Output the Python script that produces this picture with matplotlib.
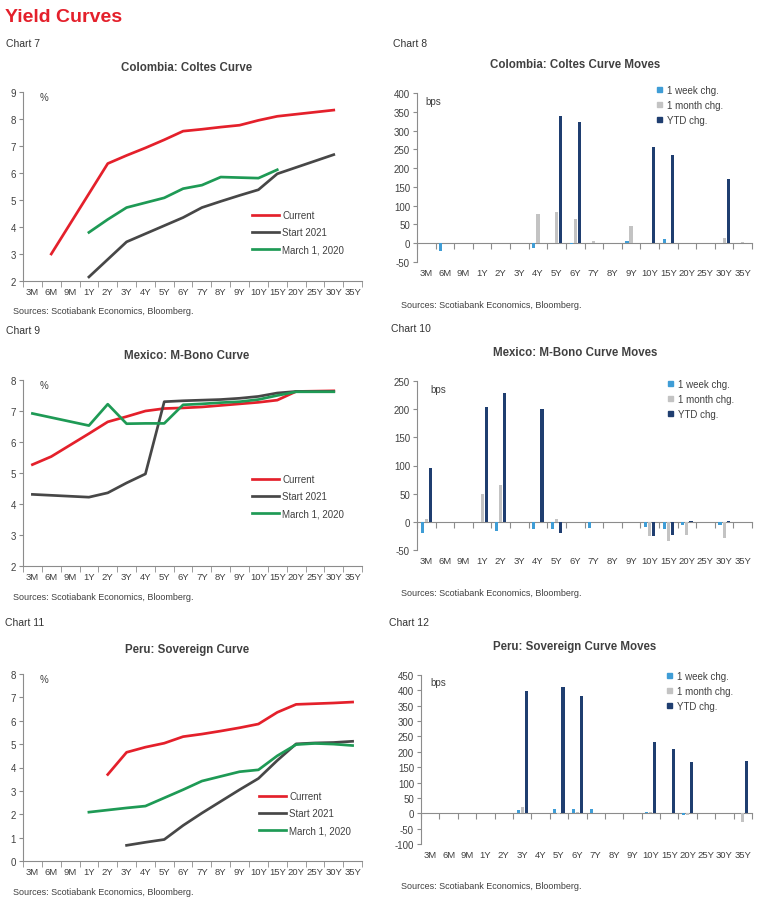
import numpy as np
import matplotlib
matplotlib.use("Agg")
import matplotlib.pyplot as plt
from matplotlib.lines import Line2D
from matplotlib.patches import Patch

plt.rcParams['font.family'] = ['Liberation Sans', 'DejaVu Sans']
plt.rcParams['axes.unicode_minus'] = False

nan = np.nan
tenors = ['3M', '6M', '9M', '1Y', '2Y', '3Y', '4Y', '5Y', '6Y', '7Y', '8Y', '9Y',
          '10Y', '15Y', '20Y', '25Y', '30Y', '35Y']

# Chart 7: Colombia Coltes curve (%)
col_current = [nan, 3.0, nan, nan, 6.35, 6.65, 6.93, 7.23, 7.55, 7.62, 7.7, 7.77,
               7.95, 8.1, nan, nan, 8.33, nan]
col_start21 = [nan, nan, nan, 2.15, 2.8, 3.45, 3.75, 4.05, 4.35, 4.72, 4.95, 5.17,
               5.38, 5.97, nan, nan, 6.68, nan]
col_mar20 = [nan, nan, nan, 3.8, 4.28, 4.72, 4.9, 5.08, 5.42, 5.55, 5.85, 5.83,
             5.81, 6.12, nan, nan, nan, nan]

# Chart 8: Colombia curve moves (bps)
col_week = [0, -20, 0, 0, 0, 0, -12, 0, -3, 0, 0, 5, 0, 10, 0, 0, 0, 0]
col_month = [0, 0, 0, 0, 0, 0, 78, 83, 65, 5, 0, 45, 0, 0, 0, 0, 15, 3]
col_ytd = [0, 0, 0, 0, 0, 0, 0, 338, 323, 0, 0, 0, 255, 234, 0, 0, 171, 0]

# Chart 9: Mexico M-Bono curve (%)
mex_current = [5.27, 5.53, 5.9, 6.27, 6.65, 6.82, 7.0, 7.08, 7.1, 7.13, 7.18, 7.23,
               7.28, 7.35, 7.63, 7.64, 7.65, nan]
mex_start21 = [4.31, 4.28, 4.25, 4.22, 4.36, 4.68, 4.97, 7.3, 7.33, 7.35, 7.37, 7.41,
               7.47, 7.58, 7.63, 7.63, 7.63, nan]
mex_mar20 = [6.92, nan, nan, 6.53, 7.22, 6.59, 6.6, 6.6, 7.2, 7.23, 7.27, 7.3,
             7.37, 7.5, 7.62, 7.62, 7.62, nan]

# Chart 10: Mexico curve moves (bps)
mex_week = [-20, 0, 0, 0, -17, 0, -13, -13, 0, -11, 0, 0, -10, -13, -5, 0, -5, 0]
mex_month = [5, 0, 0, 50, 65, 0, 0, 5, 0, 0, 0, 0, -26, -34, -24, 0, -29, 0]
mex_ytd = [96, 0, 0, 203, 229, 0, 201, -20, 0, 0, 0, 0, -26, -23, 1, 0, 2, 0]

# Chart 11: Peru sovereign curve (%)
per_current = [nan, nan, nan, nan, 3.7, 4.65, 4.87, 5.04, 5.32, 5.43, 5.56, 5.7,
               5.86, 6.36, 6.7, 6.73, 6.76, 6.8]
per_start21 = [nan, nan, nan, nan, nan, 0.67, 0.8, 0.92, 1.52, 2.05, 2.55, 3.05,
               3.53, 4.3, 5.01, 5.05, 5.07, 5.12]
per_mar20 = [nan, nan, nan, 2.09, 2.18, 2.27, 2.35, 2.7, 3.05, 3.42, 3.62, 3.82,
             3.9, 4.5, 4.98, 5.03, 5.0, 4.94]

# Chart 12: Peru curve moves (bps)
per_week = [0, 0, 0, 0, 0, 10, 0, 15, 13, 13, 0, 0, 3, 2, -5, 0, 0, 0]
per_month = [0, 0, 0, 0, 0, 20, 0, -3, 3, 0, 0, 0, 5, 0, -5, 0, 0, -27]
per_ytd = [0, 0, 0, 0, 0, 397, 0, 410, 381, 0, 0, 0, 232, 210, 167, 0, 0, 170]

RED = '#E4202B'
DARK = '#474747'
GREEN = '#1E9A55'
WEEK = '#3F9DD6'
MONTH = '#C3C3C3'
YTD = '#1F3E70'
AXC = '#8C8C8C'
TXT = '#404040'

W, H = 760, 904
fig = plt.figure(figsize=(W / 100, H / 100), dpi=100)
fig.patch.set_facecolor('white')


def px_axes(left, top, right, bottom):
    return fig.add_axes([left / W, 1 - bottom / H, (right - left) / W, (bottom - top) / H])


def fig_text(x, y, s, **kw):
    fig.text(x / W, 1 - y / H, s, **kw)


x = np.arange(len(tenors))


def style_common(ax, ylim, yticks):
    ax.set_xlim(-0.5, len(tenors) - 0.5)
    ax.set_ylim(*ylim)
    ax.set_yticks(yticks)
    for s in ['top', 'right']:
        ax.spines[s].set_visible(False)
    ax.spines['left'].set_color(AXC)
    ax.tick_params(axis='y', direction='out', length=3, color=AXC, labelsize=7,
                   labelcolor=TXT, pad=2)
    ax.set_xticks(x)
    ax.set_xticklabels(tenors)
    ax.set_xticks(np.arange(len(tenors) + 1) - 0.5, minor=True)


def line_chart(rect, title, series, ylim, yticks, legend_px, title_px, src_px):
    ax = px_axes(*rect)
    style_common(ax, ylim, yticks)
    ax.spines['bottom'].set_color(AXC)
    ax.tick_params(axis='x', which='major', length=0, labelsize=6.8, labelcolor=TXT, pad=4)
    ax.tick_params(axis='x', which='minor', length=4, color=AXC, direction='out')
    handles = []
    for vals, col, lab in series:
        v = np.array(vals, dtype=float)
        m = ~np.isnan(v)
        ax.plot(x[m], v[m], color=col, lw=1.95, solid_joinstyle='round')
        handles.append(Line2D([], [], color=col, lw=1.95, label=lab))
    ax.text(0.05, 0.975, '%', transform=ax.transAxes, fontsize=7, color=TXT,
            va='center', ha='left')
    fig.legend(handles=handles, loc='upper left',
               bbox_to_anchor=(legend_px[0] / W, 1 - legend_px[1] / H),
               frameon=False, fontsize=7, handlelength=2.8, handletextpad=0.3,
               labelspacing=0.75, borderaxespad=0, borderpad=0, labelcolor=TXT)
    fig_text(title_px[0], title_px[1], title, ha='center', va='center',
             fontsize=8.3, fontweight='bold', color=TXT)
    fig_text(src_px[0], src_px[1], 'Sources: Scotiabank Economics, Bloomberg.',
             ha='left', va='center', fontsize=6.5, color=TXT)
    return ax


def bar_chart(rect, title, week, month, ytd, ylim, yticks, legend_px, title_px,
              src_px, bps_pos):
    ax = px_axes(*rect)
    style_common(ax, ylim, yticks)
    ax.spines['bottom'].set_visible(False)
    ax.tick_params(axis='x', which='both', length=0, labelsize=6.8, labelcolor=TXT, pad=4)
    bw = 0.17
    ax.bar(x - 0.22, week, bw, color=WEEK, label='1 week chg.', zorder=2)
    ax.bar(x, month, bw, color=MONTH, label='1 month chg.', zorder=2)
    ax.bar(x + 0.22, ytd, bw, color=YTD, label='YTD chg.', zorder=2)
    frac = (0 - ylim[0]) / (ylim[1] - ylim[0])
    sec = ax.secondary_xaxis(frac)
    sec.spines['bottom'].set_color(AXC)
    sec.set_xticks(np.arange(len(tenors) + 1) - 0.5)
    sec.set_xticklabels([])
    sec.tick_params(axis='x', length=4, color=AXC, direction='out')
    ax.text(bps_pos[0], bps_pos[1], 'bps', transform=ax.transAxes, fontsize=7,
            color=TXT, va='center', ha='left')
    handles = [Patch(color=WEEK, label='1 week chg.'),
               Patch(color=MONTH, label='1 month chg.'),
               Patch(color=YTD, label='YTD chg.')]
    fig.legend(handles=handles, loc='upper left',
               bbox_to_anchor=(legend_px[0] / W, 1 - legend_px[1] / H),
               frameon=False, fontsize=7, handlelength=0.5, handleheight=0.5,
               handletextpad=0.5, labelspacing=0.5, borderaxespad=0, borderpad=0,
               labelcolor=TXT)
    fig_text(title_px[0], title_px[1], title, ha='center', va='center',
             fontsize=8.3, fontweight='bold', color=TXT)
    fig_text(src_px[0], src_px[1], 'Sources: Scotiabank Economics, Bloomberg.',
             ha='left', va='center', fontsize=6.5, color=TXT)
    return ax


fig_text(5, 18, 'Yield Curves', ha='left', va='center', fontsize=14,
         fontweight='bold', color=RED)
narrow = ['Liberation Sans Narrow', 'Liberation Sans', 'DejaVu Sans']
for (cx, cy, lab) in [(6, 44, 'Chart 7'), (393, 44, 'Chart 8'),
                      (6, 331, 'Chart 9'), (391, 329, 'Chart 10'),
                      (5, 623, 'Chart 11'), (389, 623, 'Chart 12')]:
    fig_text(cx, cy, lab, ha='left', va='center', fontsize=7.5, color='#333333',
             family=narrow)

line_chart((23, 93, 362, 282), 'Colombia: Coltes Curve',
           [(col_current, RED, 'Current'), (col_start21, DARK, 'Start 2021'),
            (col_mar20, GREEN, 'March 1, 2020')],
           (2, 9), range(2, 10), (252, 211), (187, 68), (13, 311))

bar_chart((417, 94, 752, 263), 'Colombia: Coltes Curve Moves',
          col_week, col_month, col_ytd, (-50, 400), range(-50, 401, 50),
          (657, 86), (575, 65), (401, 305), (0.024, 0.953))

line_chart((23, 381, 362, 567), 'Mexico: M-Bono Curve',
           [(mex_current, RED, 'Current'), (mex_start21, DARK, 'Start 2021'),
            (mex_mar20, GREEN, 'March 1, 2020')],
           (2, 8), range(2, 9), (252, 475), (187, 356), (13, 597))

bar_chart((417, 382, 752, 551), 'Mexico: M-Bono Curve Moves',
          mex_week, mex_month, mex_ytd, (-50, 250), range(-50, 251, 50),
          (668, 380), (575, 353), (401, 593), (0.04, 0.95))

line_chart((23, 675, 362, 862), 'Peru: Sovereign Curve',
           [(per_current, RED, 'Current'), (per_start21, DARK, 'Start 2021'),
            (per_mar20, GREEN, 'March 1, 2020')],
           (0, 8), range(0, 9), (259, 792), (187, 650), (13, 893))

bar_chart((421, 676, 752, 845), 'Peru: Sovereign Curve Moves',
          per_week, per_month, per_ytd, (-100, 450), range(-100, 451, 50),
          (667, 672), (575, 647), (401, 887), (0.027, 0.96))

fig.savefig('out.png', dpi=100, facecolor='white')
